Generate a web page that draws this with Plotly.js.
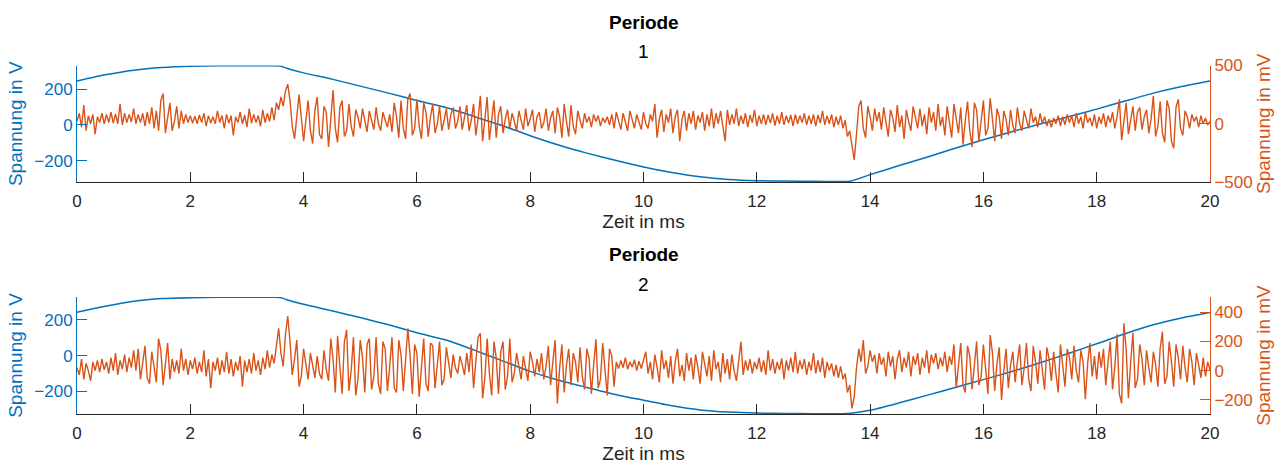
<!DOCTYPE html>
<html>
<head>
<meta charset="utf-8">
<script src="https://cdn.plot.ly/plotly-3.0.1.min.js"></script>
<style>html,body{margin:0;padding:0;background:#fff;}#chart{width:1287px;height:465px;}</style>
</head>
<body>
<div id="chart"></div>
<script>
// ---- Data ----
const xTicks = [0, 2, 4, 6, 8, 10, 12, 14, 16, 18, 20];
const panelTitles = ["Periode", "Periode"];
const panelNumbers = ["1", "2"];

// Blue: mains voltage in V (left axis)
const tBlue1 = [0,0.5,1,1.5,2,2.5,3,3.5,3.6,3.7,4,4.5,5,5.5,6,6.5,7,7.5,8,8.5,9,9.5,10,10.5,11,11.5,12,12.5,13,13.5,13.65,14,14.5,15,15.5,16,16.5,17,17.5,18,18.5,19,19.5,20];
const vBlue1 = [245,279,305,320,327,329,330,329,327,316,290,255,216,177,136,98,48,-3,-60,-112,-157,-197,-234,-265,-289,-304,-311,-313,-314,-315,-314,-277,-228,-180,-130,-83,-38,5,45,88,133,177,214,245];
const tBlue2 = [0,0.5,1,1.5,2,2.5,3,3.5,3.6,3.7,4,4.5,5,5.5,6,6.5,7,7.5,8,8.5,9,9.5,10,10.5,11,11.5,12,12.5,13,13.5,13.65,14,14.5,15,15.5,16,16.5,17,17.5,18,18.5,19,19.5,20];
const vBlue2 = [242,275,303,318,323,325,326,325,323,312,286,250,212,172,128,88,32,-28,-88,-138,-178,-217,-249,-280,-303,-315,-321,-323,-324,-324,-322,-305,-265,-222,-178,-134,-89,-40,12,66,122,172,210,240];

// Orange: measured signal in mV (right axis), sampled every 0.04 ms from 0 to 20 ms
const vOrange1 = [
20,90,-30,160,-60,70,0,80,-90,60,10,90,0,80,10,100,5,85,0,170,-10,90,10,80,15,
130,0,80,10,90,-20,100,0,140,-40,110,-60,200,260,-80,50,180,-60,20,150,-40,110,0,80,10,
70,5,65,0,75,10,90,-20,70,5,60,0,110,10,70,-40,80,5,70,-100,60,10,100,0,75,
-30,130,5,80,10,70,-20,120,10,90,20,140,30,180,120,230,150,280,340,200,-20,-130,60,250,50,
-150,30,200,-60,-170,120,230,-90,-130,150,100,-200,50,290,-40,-160,140,200,-110,-60,170,-20,-110,120,60,
-40,130,20,-70,110,40,-50,140,0,-60,100,30,-30,80,-70,180,60,-120,200,-40,-130,220,260,-100,-40,
210,-20,-130,180,100,-110,60,170,-80,0,150,-60,30,130,-50,80,140,-40,20,150,-50,60,160,-60,30,
170,-100,40,240,-150,60,230,-140,20,200,-120,80,150,-80,40,120,-40,90,20,-60,110,30,-50,130,-20,
40,120,-70,60,100,-40,10,130,-60,50,110,-80,140,60,-120,170,20,-110,160,-20,-90,110,30,-40,90,
10,60,-30,80,20,70,-20,50,10,60,-10,80,-40,100,20,-50,90,10,-60,110,30,-40,80,10,-50,
100,0,-40,80,20,170,-120,40,120,-70,80,10,130,-80,60,120,-150,40,110,-60,90,0,110,-50,70,
10,100,-60,80,-20,130,-40,90,0,110,-30,-150,120,-10,80,0,130,-20,70,0,90,-30,75,10,120,
-20,70,0,80,-10,75,5,90,-15,70,0,100,-10,70,5,75,-20,80,0,70,10,90,-10,70,0,
80,-20,75,5,110,-10,70,0,80,-30,60,-10,70,-40,30,-110,-60,-200,-310,-90,150,200,-40,-120,150,
60,-60,130,20,100,-50,140,30,-110,120,50,-70,160,-30,70,-130,120,20,-60,150,40,-40,130,-20,80,
-90,140,10,100,-60,170,-20,60,-100,150,0,-120,170,60,-80,140,-180,30,190,-60,-200,180,120,-150,40,
200,-100,-40,220,20,-150,130,60,-130,110,40,-100,120,-20,-80,140,0,-60,110,20,-40,130,10,60,-30,
90,0,60,-20,40,-30,50,0,70,-20,60,-10,80,10,70,-30,90,0,60,-40,100,10,50,-20,80,
-40,60,0,90,-30,70,10,100,-40,60,210,-140,50,180,-90,20,150,-60,100,140,-50,60,120,-80,40,
240,-110,-20,190,-80,-160,200,130,-150,-210,140,210,-40,-100,110,60,-40,80,20,60,-30,70,0,50,-10,
20];

const vOrange2 = [
20,-30,80,-60,50,0,-70,60,0,70,-10,80,5,60,-20,90,0,120,-30,70,10,110,-10,90,20,
140,0,150,-60,60,170,-50,-90,130,40,-80,220,140,-100,60,190,-60,80,-10,70,-20,150,0,80,-30,
70,10,90,-20,60,-10,140,-40,80,-120,60,0,90,-30,70,-10,130,-20,80,-40,60,0,100,-110,70,
-10,80,-20,120,0,70,-30,90,10,140,20,110,50,180,290,120,30,250,375,200,-30,80,210,-110,-40,
150,30,-60,120,40,-50,100,-20,-60,140,10,-70,220,80,-150,240,30,-160,200,280,-140,0,230,-170,-60,
210,90,-150,180,220,-130,-40,230,-90,-160,200,150,-140,30,230,-120,-150,210,110,-140,60,290,100,-160,180,
120,-180,30,220,-90,-140,190,170,-120,20,200,-100,-60,160,40,-50,110,20,-20,100,40,-30,120,-10,180,
-120,60,230,256,-190,-50,220,-20,-170,200,90,-160,130,200,-130,-40,220,-80,-20,120,40,-60,100,10,-70,
130,60,-40,80,-10,120,-60,30,170,-100,60,210,-225,20,180,-150,40,150,-100,120,60,-80,160,-40,-130,
150,80,-160,40,215,-120,-60,190,30,-170,150,100,-110,60,15,70,20,90,10,60,25,75,0,65,15,
80,130,-20,60,-60,110,20,-80,140,10,70,-50,100,-90,60,150,-40,40,-70,120,0,90,-60,110,20,
-90,130,30,-40,100,-70,140,10,60,-80,120,-20,80,-60,110,0,-70,90,200,-30,70,0,80,-20,60,
10,90,-10,70,-30,140,0,80,-20,60,5,85,-60,70,0,90,-10,130,-20,70,10,80,-30,60,0,
120,-20,70,-10,90,-50,60,0,50,-40,40,-50,30,-60,-20,-150,-100,-259,-180,20,150,60,210,-20,30,
140,60,110,-20,120,40,90,-40,130,30,100,-60,80,140,-10,90,20,130,-40,100,40,120,-30,90,20,
140,-20,110,50,120,10,90,30,130,-10,100,40,180,-120,60,190,-100,-150,170,100,-130,40,200,-100,-40,
180,30,-160,245,120,-140,50,160,-202,0,150,-120,40,130,-80,60,180,-100,20,190,-60,-140,170,60,-90,
140,20,-130,160,80,-70,130,-20,-150,180,40,-110,150,90,-60,170,0,-80,140,60,-197,50,190,-40,100,
-60,130,20,150,-100,60,200,-130,30,250,-160,-225,325,150,-190,60,260,-120,-60,180,80,-100,140,20,-80,
130,40,-110,150,268,-90,-40,200,60,-110,180,90,-60,170,20,-80,150,60,-100,120,40,-50,90,-40,60,
4];

// sampling grid of the orange records
const tOrange1 = vOrange1.map((_, i) => i * 20 / (vOrange1.length - 1));
const tOrange2 = vOrange2.map((_, i) => i * 20 / (vOrange2.length - 1));

// ---- Styling ----
const BLUE = '#0072BD', ORANGE = '#D95319', GREY = '#262626';
const FONT = 'Liberation Sans, Arial, Helvetica, sans-serif';
const W = 1287, H = 465;
const xDom = [77 / W, 1210 / W];
const yDom1 = [1 - 182 / H, 1 - 65.5 / H];
const yDom2 = [1 - 414 / H, 1 - 297 / H];

const traces = [
  {x: tBlue1, y: vBlue1, xaxis: 'x', yaxis: 'y', type: 'scatter', mode: 'lines', line: {color: BLUE, width: 1.5, shape: 'spline', smoothing: 0.6}, hoverinfo: 'skip'},
  {x: tOrange1, y: vOrange1, xaxis: 'x', yaxis: 'y2', type: 'scatter', mode: 'lines', line: {color: ORANGE, width: 1.4}, hoverinfo: 'skip'},
  {x: tBlue2, y: vBlue2, xaxis: 'x2', yaxis: 'y3', type: 'scatter', mode: 'lines', line: {color: BLUE, width: 1.5, shape: 'spline', smoothing: 0.6}, hoverinfo: 'skip'},
  {x: tOrange2, y: vOrange2, xaxis: 'x2', yaxis: 'y4', type: 'scatter', mode: 'lines', line: {color: ORANGE, width: 1.4}, hoverinfo: 'skip'}
];

function xAxis(anchor) {
  return {
    domain: xDom, anchor: anchor, range: [0, 20], tickvals: xTicks, ticktext: xTicks.map(String),
    showline: true, linecolor: GREY, linewidth: 1, ticks: 'inside', ticklen: 10, tickcolor: GREY, tickwidth: 1,
    showgrid: false, zeroline: false, tickfont: {family: FONT, size: 17, color: GREY},
    ticklabelstandoff: 4,
    title: {text: 'Zeit in ms', font: {family: FONT, size: 19, color: GREY}, standoff: 2}
  };
}
function yLeft(dom, range, anchor) {
  return {
    domain: dom, anchor: anchor, range: range, tickvals: [-200, 0, 200],
    showline: true, linecolor: BLUE, linewidth: 1, ticks: 'inside', ticklen: 10, tickcolor: BLUE,
    showgrid: false, zeroline: false, tickfont: {family: FONT, size: 17, color: BLUE},
    title: {text: 'Spannung in V', font: {family: FONT, size: 19, color: BLUE}, standoff: 6}
  };
}
function yRight(over, anchor, range, ticks) {
  return {
    overlaying: over, side: 'right', anchor: anchor, range: range, tickvals: ticks,
    showline: true, linecolor: ORANGE, linewidth: 1, ticks: 'inside', ticklen: 10, tickcolor: ORANGE,
    showgrid: false, zeroline: false, tickfont: {family: FONT, size: 17, color: ORANGE},
    title: {text: 'Spannung in mV', font: {family: FONT, size: 19, color: ORANGE}, standoff: 4}
  };
}

const layout = {
  width: W, height: H, margin: {l: 0, r: 0, t: 0, b: 0, pad: 0},
  paper_bgcolor: '#ffffff', plot_bgcolor: 'rgba(0,0,0,0)', showlegend: false,
  font: {family: FONT, color: GREY},
  xaxis: xAxis('y'),
  yaxis: yLeft(yDom1, [-318, 331], 'x'),
  yaxis2: yRight('y', 'x', [-500, 500], [-500, 0, 500]),
  xaxis2: xAxis('y3'),
  yaxis3: yLeft(yDom2, [-326, 327], 'x2'),
  yaxis4: yRight('y3', 'x2', [-298, 506], [-200, 0, 200, 400]),
  annotations: [
    {text: '<b>' + panelTitles[0] + '</b>', x: 0.5, y: 1 - 23 / H, xref: 'paper', yref: 'paper', xanchor: 'center', yanchor: 'middle', showarrow: false, font: {family: FONT, size: 19, color: '#000'}},
    {text: panelNumbers[0], x: 0.5, y: 1 - 52 / H, xref: 'paper', yref: 'paper', xanchor: 'center', yanchor: 'middle', showarrow: false, font: {family: FONT, size: 19, color: '#000'}},
    {text: '<b>' + panelTitles[1] + '</b>', x: 0.5, y: 1 - 254 / H, xref: 'paper', yref: 'paper', xanchor: 'center', yanchor: 'middle', showarrow: false, font: {family: FONT, size: 19, color: '#000'}},
    {text: panelNumbers[1], x: 0.5, y: 1 - 284 / H, xref: 'paper', yref: 'paper', xanchor: 'center', yanchor: 'middle', showarrow: false, font: {family: FONT, size: 19, color: '#000'}}
  ]
};

Plotly.newPlot('chart', traces, layout, {displayModeBar: false, staticPlot: true});
</script>
</body>
</html>
